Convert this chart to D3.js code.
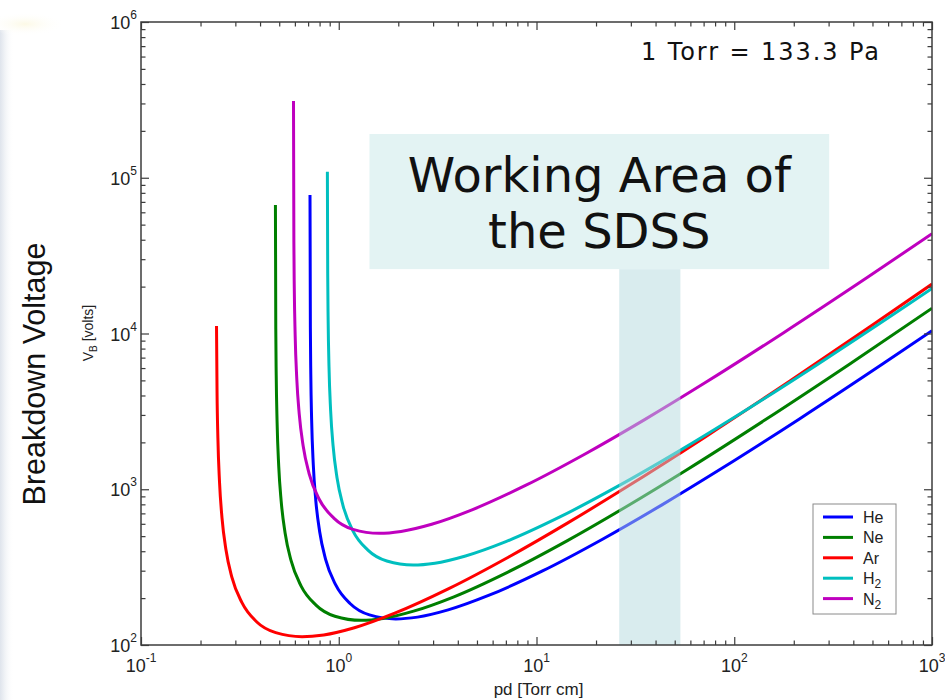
<!DOCTYPE html>
<html>
<head>
<meta charset="utf-8">
<script src="https://cdn.jsdelivr.net/npm/d3@7"></script>
<style>
  html, body { margin: 0; padding: 0; background: #fff; }
  svg { display: block; }
</style>
</head>
<body>
<svg id="chart" width="945" height="700"></svg>
<script>
// Paschen curves: breakdown voltage V_B against pressure x gap distance (pd)

const gasLabels = ["He", "Ne", "Ar", "H", "N"];
const gasSubscripts = ["", "", "", "2", "2"];

// pd in Torr cm, V_B in volts
const pdHe = [0.7155, 0.7186, 0.7222, 0.7293, 0.7436, 0.7651, 0.8008, 0.858, 0.9653, 1.144, 1.43, 1.943, 2.503, 3.575, 5.72, 10.73, 21.45, 42.9, 85.8, 214.5, 572, 1000];
const vHe  = [77400, 10880, 5480, 2780, 1432, 853, 534, 355, 243, 184, 156, 147, 151, 168, 208, 299, 476, 791, 1353, 2839, 6460, 10420];

const pdNe = [0.4784, 0.4804, 0.4828, 0.4876, 0.4971, 0.5115, 0.5354, 0.5736, 0.6453, 0.7648, 0.956, 1.299, 1.673, 2.39, 3.824, 7.17, 14.34, 28.68, 57.36, 143.4, 382.4, 1000];
const vNe  = [66800, 10690, 5386, 2733, 1407, 839, 524, 349, 239, 181, 153, 144, 148, 165, 204, 294, 468, 778, 1330, 2791, 6350, 14520];

const pdAr = [0.2409, 0.2424, 0.2448, 0.2496, 0.2568, 0.2688, 0.288, 0.324, 0.384, 0.48, 0.6523, 0.84, 1.2, 1.92, 3.6, 7.2, 14.4, 28.8, 72, 192, 500, 1000];
const vAr  = [11170, 4214, 2138, 1101, 656, 410, 273, 187, 141, 120, 113, 116, 129, 160, 230, 366, 608, 1041, 2184, 4969, 11320, 20760];

const pdH2 = [0.876, 0.8794, 0.8838, 0.8925, 0.91, 0.9363, 0.98, 1.05, 1.181, 1.4, 1.75, 2.378, 3.063, 4.375, 7.0, 13.13, 26.25, 52.5, 105, 262.5, 700, 1000];
const vH2  = [109400, 24160, 12170, 6175, 3180, 1896, 1185, 789, 539, 408, 346, 326, 335, 373, 461, 664, 1058, 1757, 3005, 6307, 14350, 19460];

const pdN2 = [0.5904, 0.593, 0.5959, 0.6018, 0.6136, 0.6313, 0.6608, 0.708, 0.7965, 0.944, 1.18, 1.604, 2.065, 2.95, 4.72, 8.85, 17.7, 35.4, 70.8, 177, 472, 1000];
const vN2  = [311000, 38640, 19460, 9875, 5085, 3032, 1895, 1262, 863, 653, 553, 521, 536, 596, 738, 1062, 1691, 2810, 4806, 10086, 22950, 43710];

const xTickExponents = [-1, 0, 1, 2, 3];
const yTickExponents = [2, 3, 4, 5, 6];

// working area: pd range of the shaded band, and the extent of the caption box
const bandPd = [26.2, 53.4];
const bandV = [100, 25900];
const boxPd = [1.43, 302];
const boxV = [25900, 191000];

const captionLines = ["Working Area of", "the SDSS"];
const noteText = "1 Torr = 133.3 Pa";

// ---------------------------------------------------------------
const lineColors = ["#0000ff", "#007f00", "#ff0000", "#00bfbf", "#bf00bf"];
const series = [
  {pd: pdHe, v: vHe}, {pd: pdNe, v: vNe}, {pd: pdAr, v: vAr},
  {pd: pdH2, v: vH2}, {pd: pdN2, v: vN2}
];

const svg = d3.select("#chart");
const W = 945, H = 700;
const plot = {left: 141, right: 932, top: 22, bottom: 645};

const x = d3.scaleLog().domain([0.1, 1000]).range([plot.left, plot.right]);
const y = d3.scaleLog().domain([100, 1e6]).range([plot.bottom, plot.top]);

// faint slide background at the left edge
const defs = svg.append("defs");
const edge = defs.append("linearGradient").attr("id", "edgeGrad")
  .attr("x1", "0").attr("x2", "1").attr("y1", "0").attr("y2", "0");
edge.append("stop").attr("offset", "0").attr("stop-color", "#dfe4ec");
edge.append("stop").attr("offset", "0.3").attr("stop-color", "#eef1f5");
edge.append("stop").attr("offset", "1").attr("stop-color", "#ffffff").attr("stop-opacity", 0);
svg.append("rect").attr("x", 0).attr("y", 30).attr("width", 14).attr("height", H - 30)
  .attr("fill", "url(#edgeGrad)");
const glow = defs.append("radialGradient").attr("id", "glowGrad");
glow.append("stop").attr("offset", "0").attr("stop-color", "#fcf9e6");
glow.append("stop").attr("offset", "1").attr("stop-color", "#ffffff").attr("stop-opacity", 0);
svg.append("ellipse").attr("cx", 25).attr("cy", 24).attr("rx", 40).attr("ry", 12)
  .attr("fill", "url(#glowGrad)");

defs.append("clipPath").attr("id", "plotClip").append("rect")
  .attr("x", plot.left).attr("y", plot.top)
  .attr("width", plot.right - plot.left).attr("height", plot.bottom - plot.top);

// curves
const line = d3.line()
  .x(d => x(d[0])).y(d => y(d[1]))
  .curve(d3.curveMonotoneX);

const curves = svg.append("g").attr("clip-path", "url(#plotClip)");
series.forEach((s, i) => {
  const pts = s.pd.map((p, k) => [p, s.v[k]]);
  curves.append("path").datum(pts)
    .attr("d", line)
    .attr("fill", "none")
    .attr("stroke", lineColors[i])
    .attr("stroke-width", 3)
    .attr("stroke-linejoin", "round")
    .attr("stroke-linecap", "butt");
});

// shaded working band (translucent, over the curves)
svg.append("rect")
  .attr("x", x(bandPd[0])).attr("width", x(bandPd[1]) - x(bandPd[0]))
  .attr("y", y(bandV[1])).attr("height", y(bandV[0]) - y(bandV[1]))
  .attr("fill", "#b4dade").attr("fill-opacity", 0.5);

// caption box
svg.append("rect")
  .attr("x", x(boxPd[0])).attr("width", x(boxPd[1]) - x(boxPd[0]))
  .attr("y", y(boxV[1])).attr("height", y(boxV[0]) - y(boxV[1]))
  .attr("fill", "#e3f3f3");
const boxCx = (x(boxPd[0]) + x(boxPd[1])) / 2;
captionLines.forEach((t, i) => {
  svg.append("text")
    .attr("x", boxCx).attr("y", 192 + i * 56)
    .attr("text-anchor", "middle")
    .attr("font-family", "'DejaVu Sans', Verdana, sans-serif")
    .attr("font-size", 48)
    .attr("fill", "#111")
    .text(t);
});

// unit note
svg.append("text")
  .attr("x", 641).attr("y", 60)
  .attr("font-family", "'DejaVu Sans', Verdana, sans-serif")
  .attr("font-size", 24)
  .attr("textLength", 238).attr("lengthAdjust", "spacing")
  .attr("fill", "#111")
  .text(noteText);

// axes: ticks on all four sides, pointing inward
const majorX = xTickExponents.map(e => Math.pow(10, e));
const minorX = [];
xTickExponents.slice(0, -1).forEach(e => { for (let m = 2; m <= 9; m++) minorX.push(m * Math.pow(10, e)); });
const majorY = yTickExponents.map(e => Math.pow(10, e));
const minorY = [];
yTickExponents.slice(0, -1).forEach(e => { for (let m = 2; m <= 9; m++) minorY.push(m * Math.pow(10, e)); });

const axisColor = "#3c3c3c";
function drawAxis(axis, tx, ty) {
  const g = svg.append("g").attr("transform", `translate(${tx},${ty})`).call(axis);
  g.select(".domain").remove();
  g.selectAll(".tick line").attr("stroke", axisColor).attr("stroke-width", 1.2);
  g.selectAll(".tick text").remove();
}
const MAJ = 8, MIN = 4.5;
drawAxis(d3.axisBottom(x).tickValues(minorX).tickSize(-MIN).tickFormat(""), 0, plot.bottom);
drawAxis(d3.axisBottom(x).tickValues(majorX).tickSize(-MAJ).tickFormat(""), 0, plot.bottom);
drawAxis(d3.axisTop(x).tickValues(minorX).tickSize(-MIN).tickFormat(""), 0, plot.top);
drawAxis(d3.axisTop(x).tickValues(majorX).tickSize(-MAJ).tickFormat(""), 0, plot.top);
drawAxis(d3.axisLeft(y).tickValues(minorY).tickSize(-MIN).tickFormat(""), plot.left, 0);
drawAxis(d3.axisLeft(y).tickValues(majorY).tickSize(-MAJ).tickFormat(""), plot.left, 0);
drawAxis(d3.axisRight(y).tickValues(minorY).tickSize(-MIN).tickFormat(""), plot.right, 0);
drawAxis(d3.axisRight(y).tickValues(majorY).tickSize(-MAJ).tickFormat(""), plot.right, 0);

svg.append("rect")
  .attr("x", plot.left).attr("y", plot.top)
  .attr("width", plot.right - plot.left).attr("height", plot.bottom - plot.top)
  .attr("fill", "none").attr("stroke", axisColor).attr("stroke-width", 1.5);

// tick labels as 10 with a superscript exponent
const tickFont = "'Liberation Sans', Arial, Helvetica, sans-serif";
xTickExponents.forEach(e => {
  const t = svg.append("text")
    .attr("x", x(Math.pow(10, e))).attr("y", 672)
    .attr("text-anchor", "middle")
    .attr("font-family", tickFont).attr("font-size", 18).attr("fill", "#222");
  t.append("tspan").text("10");
  t.append("tspan").attr("dy", -10).attr("font-size", 12).text(String(e));
});
yTickExponents.forEach(e => {
  const t = svg.append("text")
    .attr("x", 137).attr("y", y(Math.pow(10, e)) + 7)
    .attr("text-anchor", "end")
    .attr("font-family", tickFont).attr("font-size", 18).attr("fill", "#222");
  t.append("tspan").text("10");
  t.append("tspan").attr("dy", -10).attr("font-size", 12).text(String(e));
});

// axis titles
svg.append("text")
  .attr("x", (plot.left + plot.right) / 2 + 2).attr("y", 695)
  .attr("text-anchor", "middle")
  .attr("font-family", tickFont).attr("font-size", 17).attr("fill", "#222")
  .text("pd [Torr cm]");

const vbLabel = svg.append("text")
  .attr("transform", "translate(93,333) rotate(-90)")
  .attr("text-anchor", "middle")
  .attr("font-family", tickFont).attr("font-size", 14).attr("fill", "#222");
vbLabel.append("tspan").text("V");
vbLabel.append("tspan").attr("dy", 4).attr("font-size", 10).text("B");
vbLabel.append("tspan").attr("dy", -4).text(" [volts]");

svg.append("text")
  .attr("transform", "translate(45,374) rotate(-90)")
  .attr("text-anchor", "middle")
  .attr("font-family", tickFont).attr("font-size", 30.5).attr("fill", "#111")
  .text("Breakdown Voltage");

// legend
const legend = svg.append("g");
legend.append("rect")
  .attr("x", 813).attr("y", 504).attr("width", 83).attr("height", 110)
  .attr("fill", "#fff").attr("stroke", "#8a8a8a").attr("stroke-width", 1);
gasLabels.forEach((name, i) => {
  const ry = 517 + i * 20.4;
  legend.append("line")
    .attr("x1", 823).attr("x2", 853).attr("y1", ry).attr("y2", ry)
    .attr("stroke", lineColors[i]).attr("stroke-width", 3);
  const t = legend.append("text")
    .attr("x", 863).attr("y", ry + 6)
    .attr("font-family", tickFont).attr("font-size", 16).attr("fill", "#222");
  t.append("tspan").text(name);
  if (gasSubscripts[i]) t.append("tspan").attr("dy", 4).attr("font-size", 12).text(gasSubscripts[i]);
});
</script>
</body>
</html>
